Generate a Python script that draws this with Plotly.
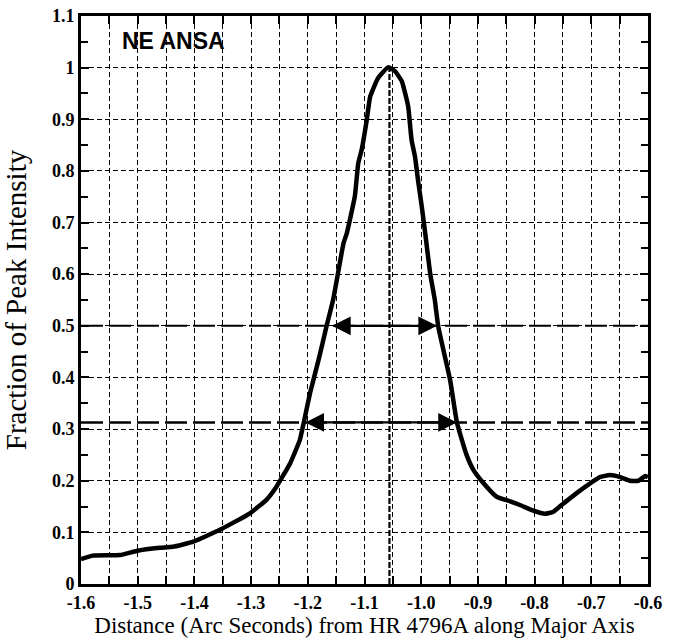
import plotly.graph_objects as go

# Profile data
dist = [-1.600, -1.579, -1.531, -1.502, -1.461, -1.438, -1.402, -1.355, -1.302, -1.273,
        -1.255, -1.231, -1.214, -1.207, -1.196, -1.181, -1.167, -1.155, -1.137, -1.131,
        -1.117, -1.111, -1.105, -1.096, -1.090, -1.076, -1.058, -1.046, -1.034, -1.023,
        -1.017, -1.011, -1.005, -0.999, -0.993, -0.984, -0.976, -0.970, -0.949, -0.937,
        -0.920, -0.908, -0.890, -0.867, -0.843, -0.826, -0.802, -0.782, -0.767, -0.749,
        -0.726, -0.702, -0.685, -0.667, -0.649, -0.632, -0.617, -0.605, -0.600]
frac = [0.048, 0.055, 0.056, 0.064, 0.070, 0.072, 0.082, 0.105, 0.137, 0.163,
        0.189, 0.234, 0.279, 0.313, 0.370, 0.434, 0.499, 0.552, 0.660, 0.680,
        0.751, 0.815, 0.841, 0.899, 0.944, 0.980, 1.001, 0.993, 0.973, 0.925,
        0.860, 0.828, 0.777, 0.731, 0.680, 0.600, 0.550, 0.499, 0.395, 0.313,
        0.250, 0.221, 0.195, 0.169, 0.160, 0.153, 0.142, 0.136, 0.140, 0.156,
        0.176, 0.195, 0.207, 0.211, 0.207, 0.200, 0.200, 0.209, 0.207]

peak_x = -1.056
peak_y = 1.0
levels = [0.5, 0.313]
arrow_left = [-1.160, -1.207]
arrow_right = [-0.972, -0.937]

x_tickvals = [round(-1.6 + 0.05 * i, 2) for i in range(21)]
x_ticktext = ["-1.6", "", "-1.5", "", "-1.4", "", "-1.3", "", "-1.2", "", "-1.1", "",
              "-1.0", "", "-0.9", "", "-0.8", "", "-0.7", "", "-0.6"]
y_tickvals = [round(0.1 * i, 1) for i in range(12)]
y_ticktext = ["0", "0.1", "0.2", "0.3", "0.4", "0.5", "0.6", "0.7", "0.8", "0.9", "1", "1.1"]
y_minor = [round(0.05 + 0.1 * i, 2) for i in range(11)]

label_text = "NE ANSA"
x_title = "Distance (Arc Seconds) from HR 4796A along Major Axis"
y_title = "Fraction of Peak Intensity"

fig = go.Figure()

# horizontal reference levels (long dashes)
for lv, w in zip(levels, [2, 2.5]):
    fig.add_shape(type="line", xref="paper", x0=0, x1=1, yref="y", y0=lv, y1=lv,
                  line=dict(color="black", width=w, dash="22px,6px"), layer="below")

# vertical line at the peak
fig.add_shape(type="line", xref="x", yref="y", x0=peak_x, x1=peak_x, y0=0, y1=peak_y,
              line=dict(color="black", width=2.2, dash="6px,2px"), layer="below")

fig.add_trace(go.Scatter(x=dist, y=frac, mode="lines",
                         line=dict(color="black", width=4.5, shape="spline", smoothing=0.4),
                         showlegend=False, hoverinfo="skip"))

# double arrows at the width levels
for lv, xl, xr in zip(levels, arrow_left, arrow_right):
    fig.add_annotation(x=xr, y=lv, ax=xl, ay=lv, xref="x", yref="y", axref="x", ayref="y",
                       text="", showarrow=True, arrowhead=2, arrowside="end+start",
                       arrowsize=1.7, arrowwidth=2.2, arrowcolor="black")

fig.add_annotation(x=-1.531, y=1.052, xref="x", yref="y", text=label_text, showarrow=False,
                   xanchor="left", yanchor="middle",
                   font=dict(family="Liberation Sans", size=23, color="black", weight="bold"))

axis_common = dict(showline=True, linewidth=3, linecolor="black", mirror="allticks",
                   ticks="inside", ticklen=8, tickwidth=2, tickcolor="black",
                   showgrid=True, gridcolor="black", gridwidth=1, griddash="5px,3px",
                   zeroline=False, ticklabeloverflow="allow")

fig.update_xaxes(range=[-1.6, -0.6], tickmode="array", tickvals=x_tickvals, ticktext=x_ticktext,
                 tickfont=dict(family="Liberation Serif", size=18, color="black", weight="bold"),
                 title=dict(text=x_title, standoff=1,
                            font=dict(family="Liberation Serif", size=23, color="black")),
                 **axis_common)
fig.update_yaxes(range=[0, 1.1], tickmode="array", tickvals=y_tickvals, ticktext=y_ticktext,
                 tickfont=dict(family="Liberation Serif", size=18, color="black", weight="bold"),
                 title=dict(text=y_title, standoff=24,
                            font=dict(family="Liberation Serif", size=29, color="black")),
                 minor=dict(tickvals=y_minor, ticks="inside", ticklen=7, tickwidth=2,
                            tickcolor="black", showgrid=False),
                 **axis_common)

fig.update_layout(width=682, height=643, plot_bgcolor="white", paper_bgcolor="white",
                  margin=dict(l=81, r=34, t=16, b=59, autoexpand=False))

# remove the default page margin so the figure sits at the window's top-left corner
fig.write_html("out.html", config={"displayModeBar": False},
               post_script="document.body.style.margin='0';")
